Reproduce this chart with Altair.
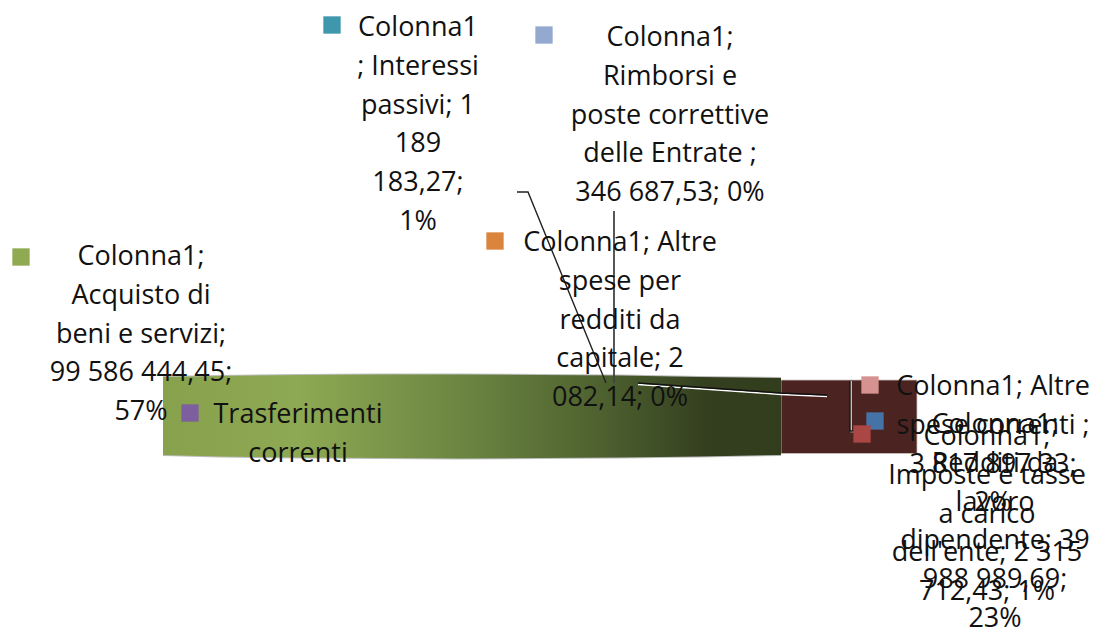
import altair as alt
import pandas as pd

# Label texts (line by line)
LABELS = [
    ["Colonna1", "; Interessi", "passivi; 1", "189", "183,27;", "1%"],
    ["Colonna1;", "Rimborsi e", "poste correttive", "delle Entrate ;", "346 687,53; 0%"],
    ["Colonna1; Altre", "spese per", "redditi da", "capitale; 2", "082,14; 0%"],
    ["Colonna1;", "Acquisto di", "beni e servizi;", "99 586 444,45;", "57%"],
    ["Trasferimenti", "correnti"],
    ["Colonna1; Altre", "spese correnti ;", "3 817 897,33;", "2%"],
    ["Colonna1;", "Redditi da", "lavoro", "dipendente; 39", "988 989,69;", "23%"],
    ["Colonna1;", "Imposte e tasse", "a carico", "dell'ente; 2 315", "712,43; 1%"],
]
LABEL_X = [418, 670, 620, 141, 298, 993, 995, 987]
LABEL_Y = [28, 38, 243, 257, 415, 387, 425, 437]
LINE_STEP = 38.8

KEY_X = [332, 544, 495, 21, 190, 870, 875, 862]
KEY_Y = [25, 35, 241, 257, 413, 385, 421, 434]
KEY_COLOR = ["#3F97AE", "#93A9CF", "#DB843D", "#8FAA50", "#7D5F9F", "#D69291", "#4572A7", "#AA4643"]

# Pie seen edge-on: outline of the green slice and the brown remainder
GREEN_X = [163, 220, 300, 380, 460, 540, 620, 700, 781]
GREEN_TOP = [377, 376, 375, 374.5, 374.5, 375, 375.5, 377, 378]
GREEN_BOT = [455, 456.5, 457.5, 458, 458.5, 458, 457.5, 456.5, 455]
BROWN_X = [781, 917]
BROWN_TOP = [380, 380]
BROWN_BOT = [453.5, 453.5]

LEADERS = [
    ([517, 528, 606], [192, 192, 383], "#222222", 1.4),
    ([614, 614], [211, 383], "#444444", 1.8),
    ([638, 781, 827], [384.5, 394.5, 396.5], "#FFFFFF", 1.4),
    ([638, 781, 827], [383, 393, 395], "#111111", 1.4),
    ([851, 851, 854], [381, 431.5, 431.5], "#FFFFFF", 1.4),
    ([850, 850, 854], [381, 431, 431], "#111111", 1.3),
]

x_scale = alt.Scale(domain=[8, 1091], range=[0, 1083], nice=False, zero=False)
y_scale = alt.Scale(domain=[8, 619], range=[0, 611], nice=False, zero=False)
X = lambda f: alt.X(f, type="quantitative", scale=x_scale, axis=None)
Y = lambda f: alt.Y(f, type="quantitative", scale=y_scale, axis=None)

green = pd.DataFrame({"x": GREEN_X, "t": GREEN_TOP, "b": GREEN_BOT})
brown = pd.DataFrame({"x": BROWN_X, "t": BROWN_TOP, "b": BROWN_BOT})

grad = alt.Gradient(
    gradient="linear", x1=0, x2=1, y1=0, y2=0,
    stops=[
        alt.GradientStop(offset=0, color="#88A14C"),
        alt.GradientStop(offset=0.22, color="#8EA953"),
        alt.GradientStop(offset=0.48, color="#6C8642"),
        alt.GradientStop(offset=0.72, color="#4C5F2E"),
        alt.GradientStop(offset=0.88, color="#333F1F"),
        alt.GradientStop(offset=1, color="#313D1D"),
    ],
)

layers = []
layers.append(alt.Chart(brown).mark_area(color="#4B2421", stroke="#C9C5C3", strokeWidth=0.8)
              .encode(x=X("x"), y=Y("t"), y2="b"))
layers.append(alt.Chart(green).mark_line(color="#BDBDBD", strokeWidth=2).encode(x=X("x"), y=Y("t")))
layers.append(alt.Chart(green).mark_line(color="#BDBDBD", strokeWidth=2).encode(x=X("x"), y=Y("b")))
layers.append(alt.Chart(green).mark_area(color=grad).encode(x=X("x"), y=Y("t"), y2="b"))

for i, (lx, ly, col, w) in enumerate(LEADERS):
    d = pd.DataFrame({"x": lx, "y": ly, "o": range(len(lx))})
    layers.append(alt.Chart(d).mark_line(color=col, strokeWidth=w)
                  .encode(x=X("x"), y=Y("y"), order="o:Q"))

keys = pd.DataFrame({"x": KEY_X, "y": KEY_Y, "c": KEY_COLOR})
layers.append(alt.Chart(keys).mark_square(size=300, opacity=1)
              .encode(x=X("x"), y=Y("y"), color=alt.Color("c:N", scale=None)))

rows = []
for lines, cx, y0 in zip(LABELS, LABEL_X, LABEL_Y):
    for j, t in enumerate(lines):
        rows.append({"t": t, "x": cx, "y": y0 + j * LINE_STEP})
layers.append(alt.Chart(pd.DataFrame(rows)).mark_text(
    font="Open Sans", fontSize=27, color="#111111", align="center", baseline="middle"
).encode(x=X("x"), y=Y("y"), text="t:N"))

chart = alt.layer(*layers).properties(width=1083, height=611, padding=0, background="white").configure_view(stroke=None)
chart.save("out.html", embed_options={"renderer": "svg", "actions": False})
